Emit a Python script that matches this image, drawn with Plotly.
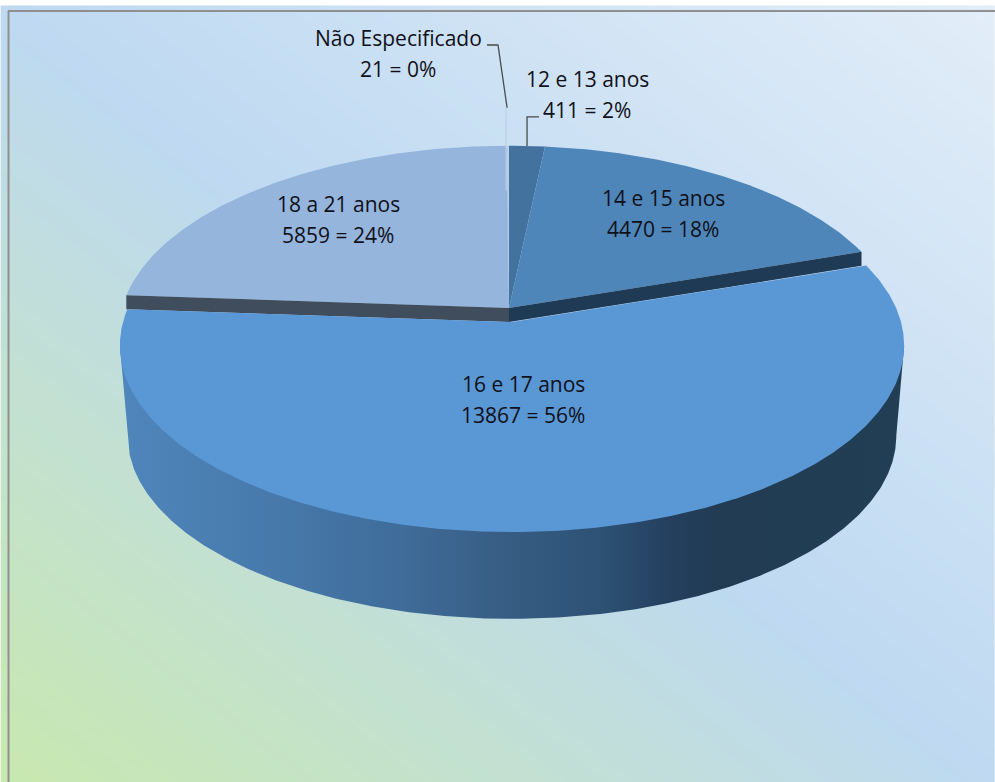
import numpy as np
import plotly.graph_objects as go

# --- data ---
categories = ["12 e 13 anos", "14 e 15 anos", "16 e 17 anos", "18 a 21 anos", "Não Especificado"]
values = [411, 4470, 13867, 5859, 21]

# --- styling / layout ---
top_colors = ["#44729f", "#4f86b9", "#5a97d5", "#95b5dd", "#bcd0e6"]
cut_colors = ["#2a4660", "#1f3a55", "#1f3a55", "#3f4d5c", "#3f4d5c"]
wall_scale = [[0, "#4f86bb"], [0.2, "#4779ab"], [0.36, "#3f6c99"], [0.47, "#395f87"],
              [0.62, "#2c5173"], [0.7, "#253f5f"], [0.76, "#213c52"], [1, "#223e55"]]
label_xy = [(587, 79), (663, 198), (523, 384), (338, 204), (398, 38)]
LINE_GAP = 31
FONT = dict(family="'Open Sans', Lato, sans-serif", size=21, color="#101018")
W, H = 995, 782
A, B, K = 389.0, 183.6, 0.126
BACK_C = (509, 308)
BACK_S = 0.995
MAIN_C = (512, 322)
DEPTH, WALL_SCALE = 91, 0.98
BAND = 14

total = sum(values)
edges = np.cumsum([0] + values) / total * 2 * np.pi


def rim(t, c, s=1.0):
    u, v = np.sin(t), np.cos(t)
    d = 1 + K * v
    return c[0] + s * A * u / d, c[1] - s * B * v / d


def arc(t0, t1):
    n = max(2, int(abs(t1 - t0) * 120))
    return np.linspace(t0, t1, n)


fig = go.Figure()

# background
gx = np.linspace(9, W, 60)
gy = np.linspace(12, H, 60)
XX, YY = np.meshgrid(gx, gy)
Z = ((W - XX) / (W - 9) + (YY - 12) / (H - 12)) / 2
fig.add_trace(go.Heatmap(x=gx, y=gy, z=Z, zmin=0, zmax=1, zsmooth="best", showscale=False,
                         hoverinfo="skip",
                         colorscale=[[0, "#e2edf8"], [0.5, "#bed9f1"], [1, "#c8e8b0"]]))


def poly(xs, ys, color, **kw):
    fig.add_trace(go.Scatter(x=xs, y=ys, mode="lines", fill="toself", fillcolor=color,
                             line=dict(width=0, color=color), hoverinfo="skip", **kw))


# back slices: top faces
for i in [3, 0, 1, 4]:
    t = arc(edges[i], edges[i + 1])
    x, y = rim(t, BACK_C, BACK_S)
    poly(np.r_[BACK_C[0], x, BACK_C[0]], np.r_[BACK_C[1], y, BACK_C[1]], top_colors[i])

# cut faces of the back slices, next to the big slice
for i, ang in [(1, edges[2]), (3, edges[3])]:
    ex, ey = rim(np.array([ang]), BACK_C, BACK_S)
    xs = [BACK_C[0], ex[0], ex[0], BACK_C[0], BACK_C[0]]
    ys = [BACK_C[1], ey[0], ey[0] + BAND, BACK_C[1] + BAND, BACK_C[1]]
    poly(xs, ys, cut_colors[i])

# outer wall of the big slice: only the part of the rim that faces the viewer,
# from one widest point of the ellipse to the other; its upper edge runs slightly
# under the top face so no seam of background shows
t_side = np.arccos(-K)
t_wall = arc(t_side, 2 * np.pi - t_side)
wx0, wy0 = rim(t_wall[[0, -1]], MAIN_C)
wx1, wy1 = rim(t_wall, MAIN_C, 0.985)
wx2, wy2 = rim(t_wall, (MAIN_C[0], MAIN_C[1] + DEPTH), WALL_SCALE)
fig.add_trace(go.Scatter(x=np.r_[wx0[0], wx1, wx0[1], wx2[::-1], wx0[0]],
                         y=np.r_[wy0[0], wy1, wy0[1], wy2[::-1], wy0[0]],
                         mode="lines", line=dict(width=0), hoverinfo="skip", fill="toself",
                         fillgradient=dict(type="horizontal", colorscale=wall_scale)))
# top of the big slice
t = arc(edges[2], edges[3])
x1, y1 = rim(t, MAIN_C)
poly(np.r_[MAIN_C[0], x1, MAIN_C[0]], np.r_[MAIN_C[1], y1, MAIN_C[1]], top_colors[2])

# leader lines
lead = "#4a4a4a"
rx, ry = rim(np.array([(edges[4] + edges[5]) / 2]), BACK_C, BACK_S)
fig.add_trace(go.Scatter(x=[rx[0] - 2, rx[0] - 2], y=[ry[0] - 38, ry[0] + 45], mode="lines",
                         line=dict(color=top_colors[4], width=1.2), hoverinfo="skip"))
fig.add_trace(go.Scatter(x=[487, 498, rx[0] - 1], y=[45, 45, ry[0] - 38], mode="lines",
                         line=dict(color=lead, width=1.3), hoverinfo="skip"))
mx, my = rim(np.array([(edges[0] + edges[1]) / 2]), BACK_C, BACK_S)
fig.add_trace(go.Scatter(x=[mx[0], mx[0], mx[0] + 12], y=[my[0], my[0] - 29, my[0] - 29], mode="lines",
                         line=dict(color=lead, width=1.3), hoverinfo="skip"))

# labels
for name, val, (lx, ly) in zip(categories, values, label_xy):
    pct = round(val / total * 100)
    for k, txt in enumerate([name, f"{val} = {pct}%"]):
        fig.add_annotation(x=lx, y=ly + k * LINE_GAP, text=txt, showarrow=False, font=FONT,
                           xanchor="center", yanchor="middle")

# chart frame
fig.add_shape(type="line", x0=8.5, x1=8.5, y0=11, y1=H, line=dict(color="#8f8f8f", width=2))
fig.add_shape(type="line", x0=8, x1=W, y0=11, y1=11, line=dict(color="#8f8f8f", width=2))

fig.update_layout(width=W, height=H, margin=dict(l=0, r=0, t=0, b=0), showlegend=False,
                  paper_bgcolor="white", plot_bgcolor="white",
                  xaxis=dict(range=[0, W], visible=False, fixedrange=True),
                  yaxis=dict(range=[H, 0], visible=False, fixedrange=True))
fig.write_html("out.html", config=dict(displayModeBar=False),
               post_script="document.body.style.margin='0';document.body.style.overflow='hidden';")
